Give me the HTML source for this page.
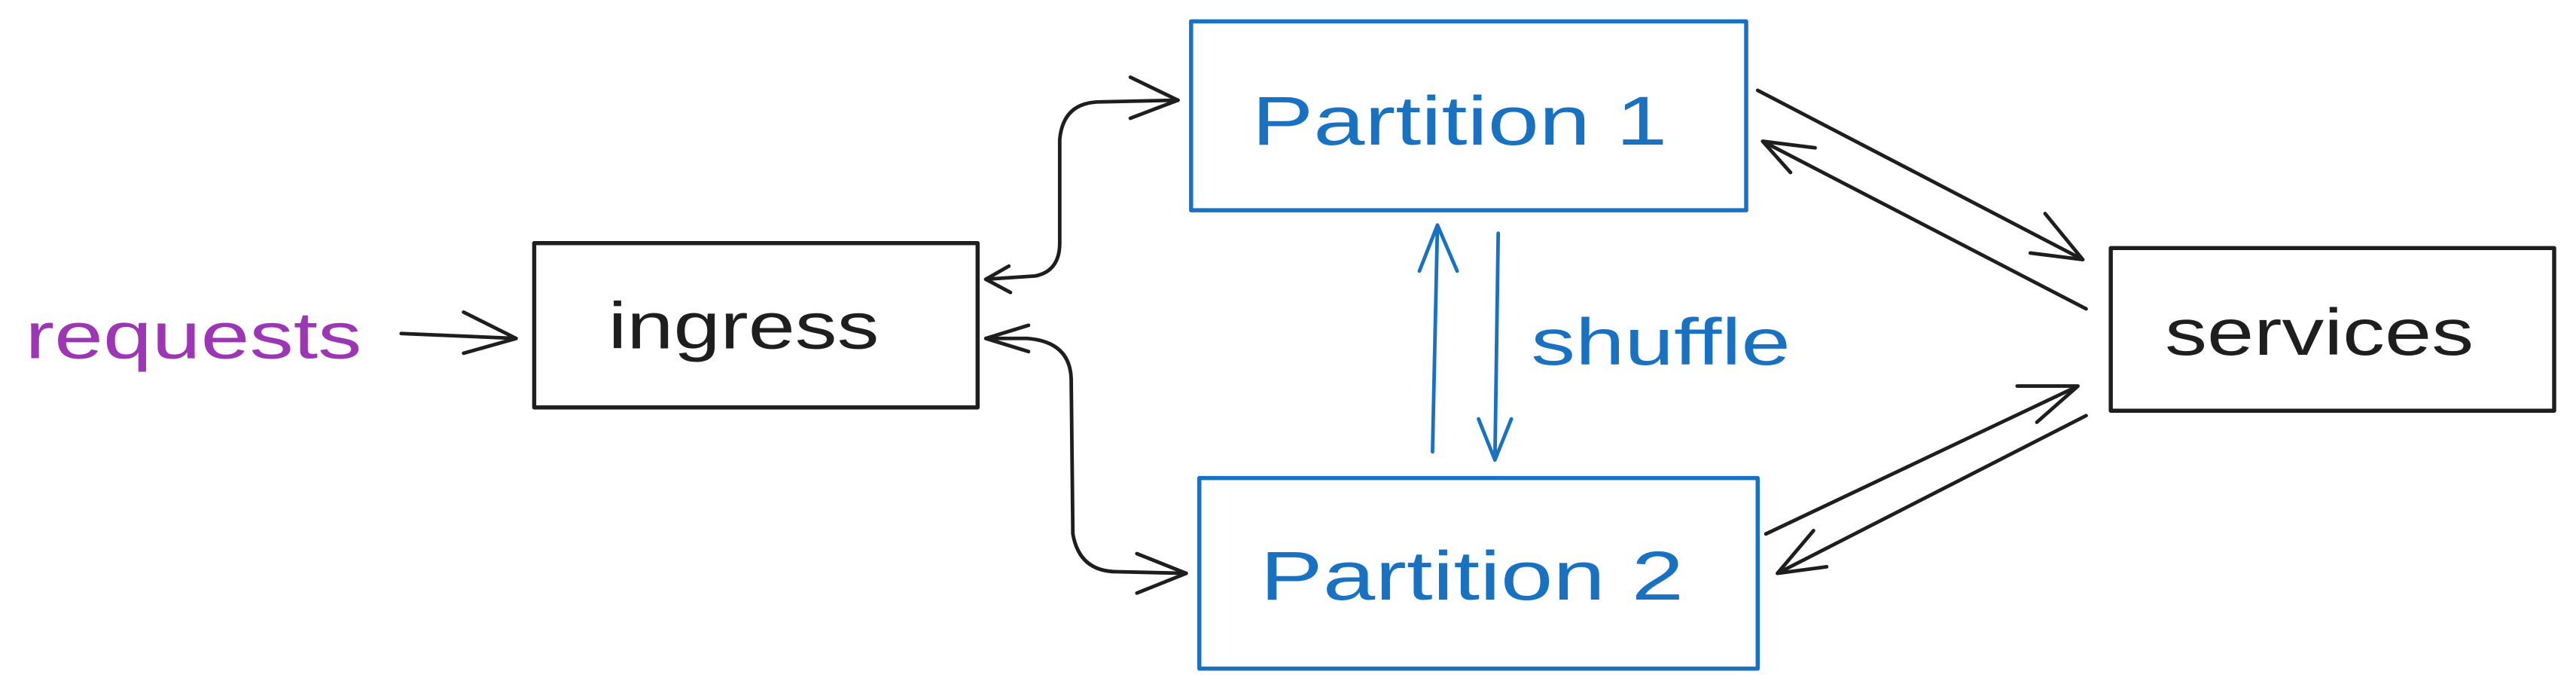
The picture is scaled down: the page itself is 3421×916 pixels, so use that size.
<!DOCTYPE html>
<html><head><meta charset="utf-8"><style>
html,body{margin:0;padding:0;background:#fff;}
svg{display:block;}
text{font-family:"Liberation Sans",sans-serif;}
</style></head><body>
<svg width="3421" height="916" viewBox="0 0 1568 420" xmlns="http://www.w3.org/2000/svg">
<rect width="1568" height="420" fill="#fff"/>
<g fill="none" stroke-linecap="round" stroke-linejoin="round">
<!-- boxes -->
<rect x="325" y="148" width="270" height="100" stroke="#1e1e1e" stroke-width="2.5"/>
<rect x="725" y="13" width="338" height="115" stroke="#1971c2" stroke-width="2.5"/>
<rect x="730" y="291" width="340" height="116" stroke="#1971c2" stroke-width="2.5"/>
<rect x="1285" y="151" width="270" height="99" stroke="#1e1e1e" stroke-width="2.5"/>

<g stroke="#1e1e1e" stroke-width="2.2">
<!-- requests arrow -->
<path d="M244 203 L314 206 M282 190 L314 206 L282 215" stroke="#1e1e1e"/>
<!-- ingress <-> P1 -->
<path d="M600 170 L630 168 Q645 165 645 148 L645 85 Q647 62 670 62 L717 61"/>
<path d="M688 47 L717 61 L688 72"/>
<path d="M614 162 L600 170 L615 178"/>
<!-- ingress <-> P2 -->
<path d="M600 206 L625 206 Q652 208 652 232 L653 325 Q657 348 680 348 L722 349"/>
<path d="M692 337 L722 349 L692 361"/>
<path d="M626 198 L600 206 L626 214"/>
<!-- P1 <-> services -->
<path d="M1070 55 L1268 158 M1245 130 L1268 158 L1236 154"/>
<path d="M1270 188 L1073 86 M1105 90 L1073 86 L1090 105"/>
<!-- P2 <-> services -->
<path d="M1075 325 L1265 235 M1228 235 L1265 235 L1240 257"/>
<path d="M1270 253 L1082 349 M1104 323 L1082 349 L1112 345"/>
</g>
<g stroke="#1971c2" stroke-width="2.2">
<path d="M872 275 L875 137 M864 165 L875 137 L887 165"/>
<path d="M912 142 L910 280 M900 255 L910 280 L920 255"/>
</g>
</g>
<text x="15" y="218" font-size="40" fill="#9c36b5" textLength="205" lengthAdjust="spacingAndGlyphs">requests</text>
<text x="370" y="212" font-size="40" fill="#1e1e1e" textLength="165" lengthAdjust="spacingAndGlyphs">ingress</text>
<text x="762" y="88" font-size="42" fill="#1971c2" textLength="253" lengthAdjust="spacingAndGlyphs">Partition 1</text>
<text x="767" y="365" font-size="42" fill="#1971c2" textLength="258" lengthAdjust="spacingAndGlyphs">Partition 2</text>
<text x="1318" y="216" font-size="40" fill="#1e1e1e" textLength="188" lengthAdjust="spacingAndGlyphs">services</text>
<text x="932" y="222" font-size="40" fill="#1971c2" textLength="158" lengthAdjust="spacingAndGlyphs">shuffle</text>
</svg>
</body></html>
